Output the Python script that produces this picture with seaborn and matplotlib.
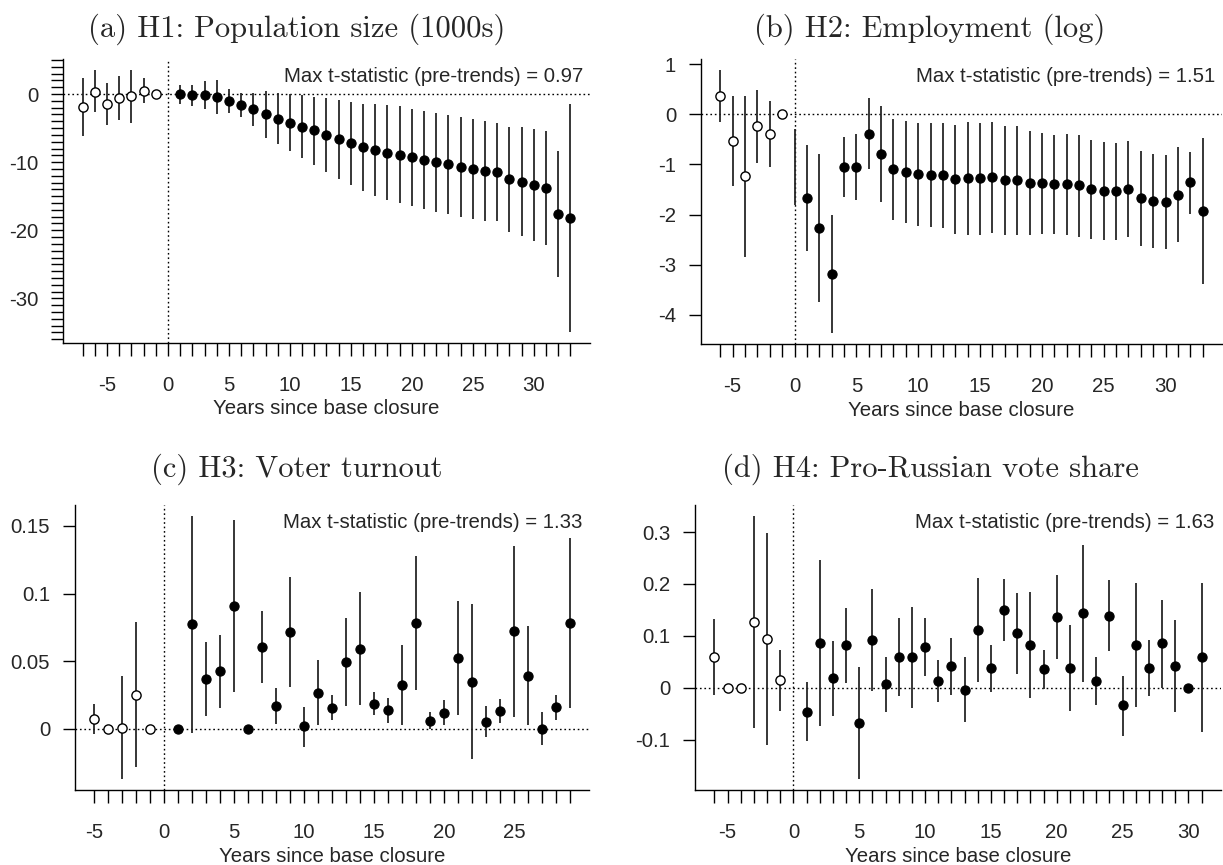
"""Event-study plots for four outcomes (base closure), drawn with seaborn"""
import numpy as np
import pandas as pd
import matplotlib
matplotlib.use("Agg")
import matplotlib.pyplot as plt
import seaborn as sns

nan = np.nan

# (a) H1: population size (1000s), years -7..33
pop_t = list(range(-7, 34))
pop_est = [-1.94, 0.34, -1.5, -0.63, -0.34, 0.44, 0.0, nan,
           0.0, -0.2, -0.1, -0.4, -1.0, -1.65, -2.2, -3.0, -3.6, -4.3,
           -4.9, -5.35, -6.0, -6.6, -7.2, -7.8, -8.2, -8.6, -9.0, -9.3,
           -9.7, -10.0, -10.3, -10.7, -11.0, -11.3, -11.4, -12.5, -12.9,
           -13.3, -13.8, -17.6, -18.2]
pop_hi = [2.3, 3.6, 1.55, 2.6, 3.5, 2.3, nan, nan,
          1.4, 1.4, 1.9, 2.1, 0.7, 0.2, 0.1, 0.44, 0.2, 0.0,
          -0.1, -0.4, -0.6, -0.9, -1.1, -1.4, -1.5, -1.6, -1.8, -2.2,
          -2.5, -2.8, -3.1, -3.4, -3.7, -4.0, -4.2, -4.8, -4.9,
          -5.1, -5.4, -8.3, -1.5]
pop_lo = [-6.1, -2.7, -4.6, -3.8, -4.2, -1.36, nan, nan,
          -1.46, -1.8, -2.2, -2.9, -2.8, -3.4, -4.7, -6.5, -7.4, -8.4,
          -9.45, -10.4, -11.4, -12.4, -13.3, -14.3, -15.0, -15.5, -16.0, -16.4,
          -16.9, -17.3, -17.6, -18.0, -18.3, -18.6, -18.7, -20.2, -20.9,
          -21.6, -22.2, -26.9, -35.0]

# (b) H2: employment (log), years -6..33
emp_t = list(range(-6, 34))
emp_est = [0.36, -0.53, -1.24, -0.245, -0.4, 0.0, nan,
           -1.67, -2.27, -3.19, -1.05, -1.05, -0.39, -0.79, -1.1, -1.15, -1.19,
           -1.21, -1.21, -1.30, -1.28, -1.28, -1.26, -1.31, -1.32, -1.37, -1.37,
           -1.39, -1.39, -1.42, -1.50, -1.54, -1.54, -1.50, -1.68, -1.73, -1.75,
           -1.61, -1.36, -1.93]
emp_hi = [0.89, 0.37, 0.37, 0.48, 0.26, nan, -0.29,
          -0.61, -0.79, -2.01, -0.46, -0.39, 0.32, 0.17, -0.1, -0.13, -0.17,
          -0.18, -0.18, -0.21, -0.16, -0.17, -0.16, -0.23, -0.23, -0.34, -0.38,
          -0.41, -0.40, -0.41, -0.51, -0.56, -0.58, -0.54, -0.73, -0.79, -0.81,
          -0.66, -0.75, -0.48]
emp_lo = [-0.16, -1.44, -2.84, -0.97, -1.05, nan, -1.81,
          -2.73, -3.75, -4.37, -1.65, -1.72, -1.1, -1.74, -2.11, -2.17, -2.23,
          -2.25, -2.26, -2.38, -2.40, -2.41, -2.36, -2.40, -2.41, -2.41, -2.38,
          -2.38, -2.40, -2.44, -2.48, -2.51, -2.51, -2.44, -2.63, -2.66, -2.68,
          -2.55, -1.98, -3.39]

# (c) H3: voter turnout, years -5..29
turn_t = list(range(-5, 30))
turn_est = [0.0074, 0.0, 0.0007, 0.0253, 0.0, nan,
            0.0, 0.0775, 0.0367, 0.0426, 0.0905, 0.0, 0.0605, 0.0172, 0.0716,
            0.0018, 0.0266, 0.0157, 0.0492, 0.0593, 0.0184, 0.0138, 0.0322,
            0.0782, 0.0059, 0.0118, 0.0524, 0.0347, 0.0052, 0.0135, 0.0723,
            0.0394, 0.0002, 0.016, 0.0782]
turn_hi = [0.0187, nan, 0.0394, 0.0787, nan, nan,
           nan, 0.1577, 0.064, 0.0696, 0.1545, nan, 0.0873, 0.0303, 0.1122,
           0.0162, 0.0507, 0.0253, 0.0819, 0.1014, 0.0271, 0.0229, 0.0617,
           0.1279, 0.0123, 0.0216, 0.0942, 0.0925, 0.0172, 0.0224, 0.1353,
           0.0763, 0.0125, 0.0253, 0.141]
turn_lo = [-0.0037, nan, -0.0374, -0.0283, nan, nan,
           nan, -0.003, 0.0093, 0.0155, 0.0271, nan, 0.034, 0.0039, 0.0308,
           -0.0133, 0.0025, 0.0062, 0.0167, 0.0177, 0.0106, 0.0044, 0.0025,
           0.0285, 0.0, 0.0025, 0.0103, -0.0226, -0.0062, 0.0044, 0.0089,
           0.0025, -0.0123, 0.0064, 0.0153]

# (d) H4: pro-Russian vote share, years -6..31
rus_t = list(range(-6, 32))
rus_est = [0.059, 0.0, 0.0, 0.1276, 0.0936, 0.0141, nan,
           -0.0468, 0.0859, 0.018, 0.0814, -0.0686, 0.0917, 0.0064, 0.059,
           0.059, 0.078, 0.0135, 0.041, -0.0038, 0.111, 0.0378, 0.15, 0.105,
           0.0827, 0.0359, 0.1365, 0.0378, 0.1436, 0.0128, 0.139, -0.034,
           0.0827, 0.0378, 0.0853, 0.041, 0.0, 0.0583]
rus_hi = [0.132, nan, nan, 0.332, 0.299, 0.0724, nan,
          0.0103, 0.246, 0.0904, 0.1545, 0.0397, 0.190, 0.059, 0.134,
          0.156, 0.134, 0.0538, 0.096, 0.0583, 0.211, 0.0827, 0.209, 0.183,
          0.1846, 0.073, 0.2167, 0.12, 0.276, 0.059, 0.2077, 0.023,
          0.2026, 0.0923, 0.169, 0.1308, nan, 0.2013]
rus_lo = [-0.0135, nan, nan, -0.0776, -0.1115, -0.0455, nan,
          -0.1032, -0.073, -0.0551, 0.009, -0.177, -0.007, -0.0468, -0.0167,
          -0.0385, 0.0218, -0.0276, -0.0135, -0.066, 0.0115, -0.0083, 0.091, 0.027,
          -0.0199, -0.0019, 0.0551, -0.0455, 0.0109, -0.034, 0.0699, -0.0923,
          -0.0372, -0.0167, -0.0006, -0.0474, nan, -0.0853]

titles = ["(a) H1: Population size (1000s)", "(b) H2: Employment (log)",
          "(c) H3: Voter turnout", "(d) H4: Pro-Russian vote share"]
max_t = ["0.97", "1.51", "1.33", "1.63"]
ytick_vals = [[-30, -20, -10, 0], [-4, -3, -2, -1, 0, 1],
              [0, 0.05, 0.1, 0.15], [-0.1, 0, 0.1, 0.2, 0.3]]
ytick_labels = [["-30", "-20", "-10", "0"], ["-4", "-3", "-2", "-1", "0", "1"],
                ["0", "0.05", "0.1", "0.15"], ["-0.1", "0", "0.1", "0.2", "0.3"]]

sns.set_theme(style="ticks")
plt.rcParams['font.family'] = ['Liberation Sans', 'DejaVu Sans']
plt.rcParams['axes.linewidth'] = 1.0
plt.rcParams['axes.edgecolor'] = 'black'

W, H = 1223, 865
fig = plt.figure(figsize=(W / 100, H / 100), dpi=100)
# axes boxes in pixels: left, top, right, bottom
boxes = [(63, 59, 590, 343), (701, 59, 1222, 344),
         (75, 505, 589, 790), (695, 505, 1221, 790)]
title_pos = [(297, 29), (930, 29), (297, 469), (930, 469)]

panels = [(pop_t, pop_est, pop_lo, pop_hi), (emp_t, emp_est, emp_lo, emp_hi),
          (turn_t, turn_est, turn_lo, turn_hi), (rus_t, rus_est, rus_lo, rus_hi)]

for i, (t, est, lo, hi) in enumerate(panels):
    l, tp, r, b = boxes[i]
    ax = fig.add_axes([l / W, 1 - b / H, (r - l) / W, (b - tp) / H])
    df = pd.DataFrame({"t": t, "est": est, "lo": lo, "hi": hi})
    df["pre"] = df["t"] < 0

    # R-like axis limits: data range padded by 4 percent
    xr = df["t"].max() - df["t"].min()
    ax.set_xlim(df["t"].min() - 0.04 * xr, df["t"].max() + 0.04 * xr)
    vals = pd.concat([df["est"], df["lo"], df["hi"]]).dropna()
    yr = vals.max() - vals.min()
    ax.set_ylim(vals.min() - 0.04 * yr, vals.max() + 0.04 * yr)

    ax.axhline(0, color='black', lw=1, ls=(0, (1.2, 2)), zorder=1)
    ax.axvline(0, color='black', lw=1, ls=(0, (1.2, 2)), zorder=1)

    ci = df.dropna(subset=["lo", "hi"])
    ax.vlines(ci["t"], ci["lo"], ci["hi"], color='#262626', lw=1.3, zorder=2)

    pts = df.dropna(subset=["est"])
    sns.scatterplot(data=pts[pts["pre"]], x="t", y="est", ax=ax, s=44,
                    color='white', edgecolor='black', linewidth=1.0, zorder=3)
    sns.scatterplot(data=pts[~pts["pre"]], x="t", y="est", ax=ax, s=44,
                    color='black', edgecolor='black', linewidth=0.8, zorder=3)

    xt = list(range(int(df["t"].min()), int(df["t"].max()) + 1))
    ax.set_xticks(xt)
    ax.set_xticklabels([str(v) if v % 5 == 0 else "" for v in xt])
    if i == 0:
        lo_y, hi_y = ax.get_ylim()
        ax.set_yticks(list(range(int(np.ceil(lo_y)), int(np.floor(hi_y)) + 1)), minor=True)
    ax.set_yticks(ytick_vals[i])
    ax.set_yticklabels(ytick_labels[i])

    ax.tick_params(axis='x', direction='out', length=9, width=1, pad=14.5,
                   labelsize=14.7, color='black')
    ax.tick_params(axis='y', direction='out', length=9, width=1, pad=9,
                   labelsize=14.7, color='black')
    ax.tick_params(axis='y', which='minor', direction='out', length=9, width=1,
                   color='black')
    ax.set_xlabel("Years since base closure", fontsize=14.7, labelpad=3.5)
    ax.set_ylabel("")
    sns.despine(ax=ax)

    ax.annotate("Max t-statistic (pre-trends) = " + max_t[i], xy=(1, 1),
                xycoords='axes fraction', xytext=(-5, -12.5),
                textcoords='offset points', ha='right', va='center', fontsize=14.7)

    tx, ty = title_pos[i]
    fig.text(tx / W, 1 - ty / H, titles[i], family='cmr10', fontsize=22,
             ha='center', va='center')

fig.savefig("out.png", dpi=100)
